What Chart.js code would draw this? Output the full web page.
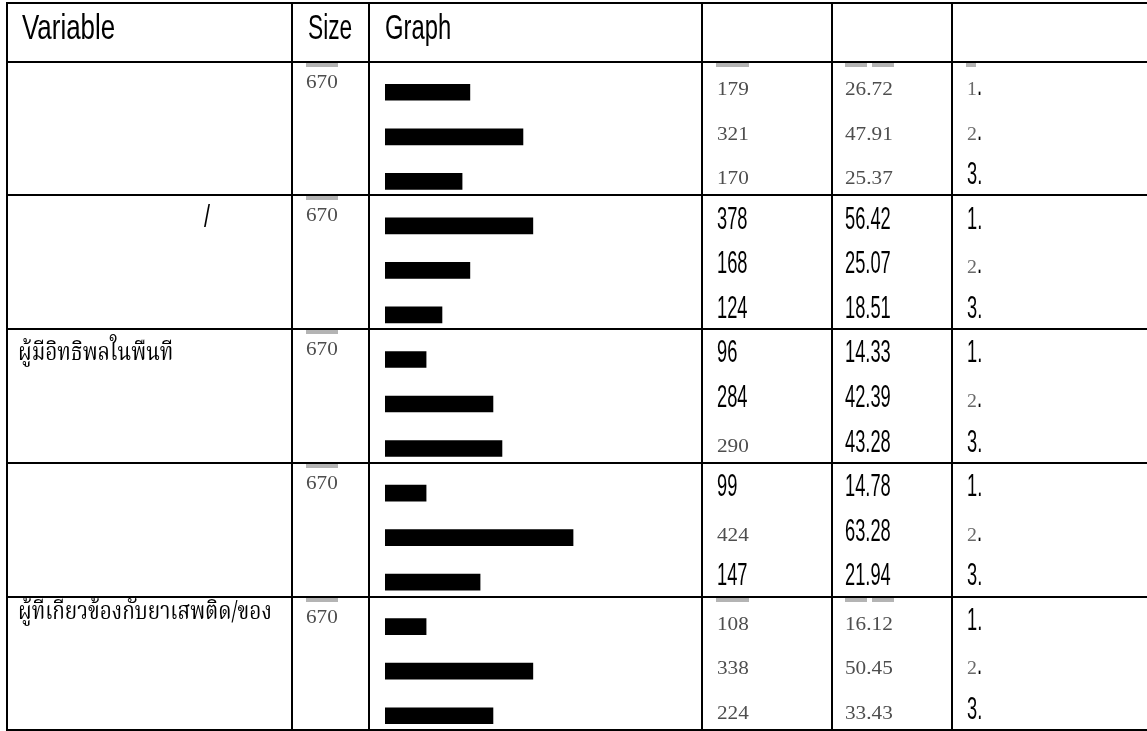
<!DOCTYPE html>
<html>
<head>
<meta charset="utf-8">
<script src="https://cdn.jsdelivr.net/npm/chart.js@4"></script>
<style>
  html, body { margin: 0; padding: 0; background: #fff; overflow: hidden; }
  #wrap { width: 1147px; height: 731px; overflow: hidden; }
</style>
</head>
<body>
<div id="wrap"><canvas id="table-chart" width="1147" height="738"></canvas></div>
<script>
const headers = ["Variable", "Size", "Graph"];
const variables = ["", "/", "ผู้มีอิทธิพลในพืนที", "", "ผู้ทีเกียวข้องกับยาเสพติด/ของ"];
const sizes = [670, 670, 670, 670, 670];
const counts = [179, 321, 170, 378, 168, 124, 96, 284, 290, 99, 424, 147, 108, 338, 224];
const percents = ["26.72", "47.91", "25.37", "56.42", "25.07", "18.51", "14.33", "42.39", "43.28",
                  "14.78", "63.28", "21.94", "16.12", "50.45", "33.43"];
const ranks = ["1.", "2.", "3.", "1.", "2.", "3.", "1.", "2.", "3.", "1.", "2.", "3.", "1.", "2.", "3."];
// bar lengths as drawn in the picture (percent units, they do not follow the printed % exactly)
const barValues = [28.3, 46, 25.7, 49.3, 28.3, 19, 13.7, 36, 39, 13.7, 62.7, 31.7, 13.7, 49.3, 36];

// --- table layout / styling ---
const colX = [7, 292, 369, 702, 832, 952];
const rowY = [3, 62, 195, 329, 463, 597, 730];
const labelX = [18, 204, 18, 18, 18];
const labelDy = [0, 32, 31, 0, 22];
const grayCount = [1, 1, 1, 0, 0, 0, 0, 0, 1, 0, 1, 0, 1, 1, 1];
const grayPct = [1, 1, 1, 0, 0, 0, 0, 0, 0, 0, 0, 0, 1, 1, 1];
const grayRank = [1, 1, 0, 0, 1, 0, 0, 1, 0, 0, 1, 0, 0, 1, 0];

const SANS = "'Liberation Sans', Arial, sans-serif";
const SERIF = "'Liberation Serif', 'DejaVu Serif', serif";
const THAI = "'Norasi', 'Noto Serif Thai', 'Noto Sans Thai', 'Garuda', 'Loma', serif";
const GRAY = "#4e4e4e";

function drawText(ctx, s, x, y, font, color, sx, blur) {
    ctx.save();
    if (blur) ctx.filter = "blur(0.75px)";
    ctx.translate(x, y);
    ctx.scale(sx, 1);
    ctx.font = font;
    ctx.fillStyle = color;
    ctx.textBaseline = "alphabetic";
    ctx.fillText(s, 0, 0);
    const w = ctx.measureText(s).width * sx;
    ctx.restore();
    return w;
}

function grayMark(ctx, x, y, w) {
    ctx.fillStyle = "#b4b4b4";
    ctx.fillRect(x, y + 1, w, 4);
}

const tablePlugin = {
    id: "tableLayout",
    afterDraw(chart) {
        const ctx = chart.ctx;
        const yScale = chart.scales.y;

        // grid
        ctx.save();
        ctx.strokeStyle = "#000";
        ctx.lineWidth = 2;
        ctx.beginPath();
        rowY.forEach(y => { ctx.moveTo(colX[0] - 1, y); ctx.lineTo(1147, y); });
        colX.forEach(x => { ctx.moveTo(x, rowY[0]); ctx.lineTo(x, rowY[rowY.length - 1]); });
        ctx.stroke();
        ctx.restore();

        // header
        drawText(ctx, headers[0], 22, 39, "35px " + SANS, "#000", 0.74);
        drawText(ctx, headers[1], 308, 39, "35px " + SANS, "#000", 0.65);
        drawText(ctx, headers[2], 385, 39, "35px " + SANS, "#000", 0.68);

        // group cells
        variables.forEach((v, g) => {
            const top = rowY[g + 1];
            if (v === "/") {
                drawText(ctx, v, labelX[g], top + labelDy[g], "31px " + SANS, "#000", 0.7);
            } else if (v) {
                drawText(ctx, v, labelX[g], top + labelDy[g], "25px " + THAI, "#000", 0.83);
            }
            grayMark(ctx, 306, top, 32);
            drawText(ctx, String(sizes[g]), 306, top + 26, "18px " + SERIF, GRAY, 1.18, true);
        });

        // per-bar cells
        counts.forEach((c, i) => {
            const base = yScale.getPixelForValue(i) + 3;
            const first = i % 3 === 0;
            if (grayCount[i]) {
                if (first && grayPct[i]) grayMark(ctx, 716, rowY[i / 3 + 1], 33);
                drawText(ctx, String(c), 717, base, "18px " + SERIF, GRAY, 1.18, true);
            } else {
                drawText(ctx, String(c), 717, base, "31px " + SANS, "#000", 0.59);
            }
            if (grayPct[i]) {
                if (first) {
                    grayMark(ctx, 845, rowY[i / 3 + 1], 22);
                    grayMark(ctx, 872, rowY[i / 3 + 1], 22);
                }
                drawText(ctx, percents[i], 845, base, "18px " + SERIF, GRAY, 1.18, true);
            } else {
                drawText(ctx, percents[i], 845, base, "31px " + SANS, "#000", 0.59);
            }
            if (grayRank[i]) {
                if (i === 0) grayMark(ctx, 966, rowY[1], 10);
                const w = drawText(ctx, ranks[i].charAt(0), 967, base, "18px " + SERIF, "#6a6a6a", 1.1, true);
                drawText(ctx, ".", 967 + w, base, "31px " + SANS, "#000", 0.59);
            } else {
                drawText(ctx, ranks[i], 967, base, "31px " + SANS, "#000", 0.59);
            }
        });
    }
};

const ctx = document.getElementById("table-chart").getContext("2d");
new Chart(ctx, {
    type: "bar",
    data: {
        labels: counts.map((c, i) => String(i)),
        datasets: [{
            data: barValues,
            backgroundColor: "#000",
            borderWidth: 0,
            barThickness: 16
        }]
    },
    options: {
        indexAxis: "y",
        responsive: false,
        animation: false,
        devicePixelRatio: 1,
        layout: { padding: { left: 385, right: 445, top: 70, bottom: 0 } },
        plugins: { legend: { display: false }, tooltip: { enabled: false } },
        scales: {
            x: { display: false, min: 0, max: 105.7 },
            y: { display: false, offset: true, grid: { display: false } }
        }
    },
    plugins: [tablePlugin]
});
</script>
</body>
</html>
